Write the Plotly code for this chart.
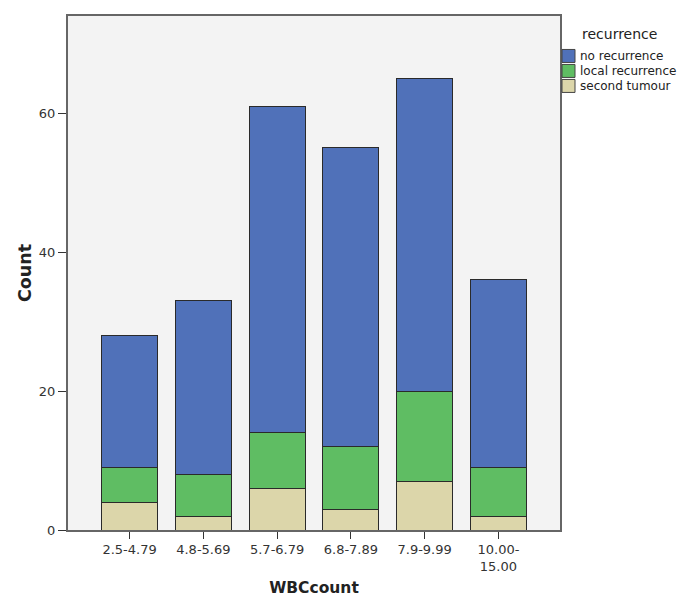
import plotly.graph_objects as go

categories = ["2.5-4.79", "4.8-5.69", "5.7-6.79", "6.8-7.89", "7.9-9.99", "10.00-<br>15.00"]
second_tumour = [4, 2, 6, 3, 7, 2]
local_recurrence = [5, 6, 8, 9, 13, 7]
no_recurrence = [19, 25, 47, 43, 45, 27]
legend_title = "recurrence"

series = [
    ("second tumour", second_tumour, "#DCD6AA"),
    ("local recurrence", local_recurrence, "#5FBD63"),
    ("no recurrence", no_recurrence, "#5071B9"),
]

W, H = 677, 598
ML, MR, MT, MB = 60, 125, 7.5, 76
PW, PH = W - ML - MR, H - MT - MB


def px_x(px):
    return (px - ML) / PW


def px_y(py):
    return 1 - (py - MT) / PH


fig = go.Figure()
for name, vals, color in series:
    fig.add_trace(go.Bar(
        x=categories, y=vals, name=name,
        marker=dict(color=color, line=dict(color="#2a2a2a", width=1)),
        width=0.757, showlegend=False,
    ))

# manual legend (top entry = last stacked series)
shapes = []
annotations = [dict(
    text=legend_title, xref="paper", yref="paper",
    x=px_x(572), y=px_y(26), xanchor="left", yanchor="middle",
    showarrow=False, font=dict(size=14, color="#222222"),
)]
for k, (name, vals, color) in enumerate(reversed(series)):
    top = 41 + 15 * k
    shapes.append(dict(
        type="rect", xref="paper", yref="paper",
        x0=px_x(554), x1=px_x(567), y0=px_y(top), y1=px_y(top + 13),
        fillcolor=color, line=dict(color="#444444", width=1),
    ))
    annotations.append(dict(
        text=name, xref="paper", yref="paper",
        x=px_x(570), y=px_y(top + 6.5), xanchor="left", yanchor="middle",
        showarrow=False, font=dict(size=12, color="#222222"),
    ))

fig.update_layout(
    barmode="stack",
    width=W, height=H,
    margin=dict(l=ML, r=MR, t=MT, b=MB, autoexpand=False),
    paper_bgcolor="white",
    plot_bgcolor="#F3F3F3",
    font=dict(family="DejaVu Sans", size=13, color="#333333"),
    showlegend=False,
    shapes=shapes,
    annotations=annotations,
    xaxis=dict(
        range=[-0.835, 5.835],
        title=dict(text="<b>WBCcount</b>", font=dict(size=15.5, color="#222222"), standoff=9),
        ticks="outside", ticklen=7, tickcolor="#333333",
        showline=True, linecolor="#666666", linewidth=1.5, mirror=True,
        showgrid=False, tickfont=dict(size=13, color="#333333"),
        automargin=False,
    ),
    yaxis=dict(
        range=[0, 74],
        tickvals=[0, 20, 40, 60],
        title=dict(text="<b>Count</b>", font=dict(size=17.5, color="#222222"), standoff=3),
        ticks="outside", ticklen=8, tickcolor="#333333",
        showline=True, linecolor="#666666", linewidth=2, mirror=True,
        showgrid=False, zeroline=False, tickfont=dict(size=13, color="#333333"),
        automargin=False,
    ),
)

fig.write_html("out.html")
